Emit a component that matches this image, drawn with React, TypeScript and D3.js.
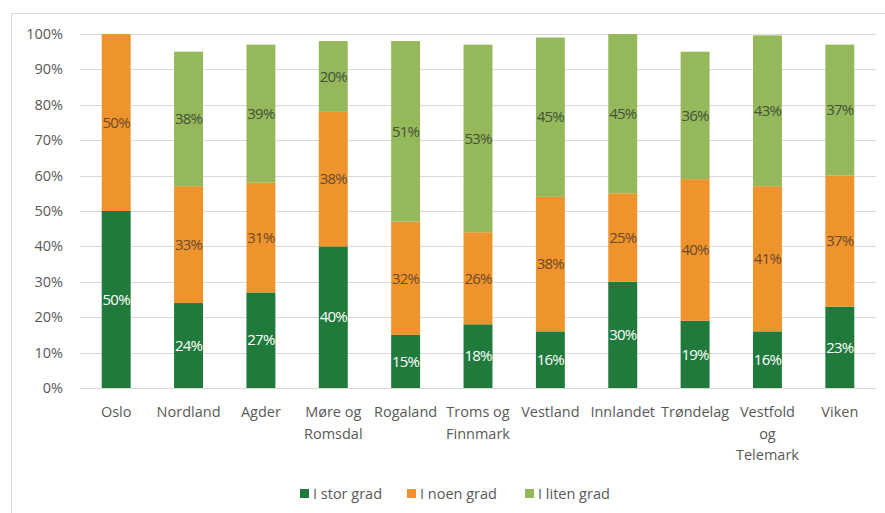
import React from "react";
import * as d3 from "d3";

const categories = ["Oslo", "Nordland", "Agder", "Møre og Romsdal", "Rogaland", "Troms og Finnmark", "Vestland", "Innlandet", "Trøndelag", "Vestfold og Telemark", "Viken"];
const categoryLines = [["Oslo"], ["Nordland"], ["Agder"], ["Møre og", "Romsdal"], ["Rogaland"], ["Troms og", "Finnmark"], ["Vestland"], ["Innlandet"], ["Trøndelag"], ["Vestfold", "og", "Telemark"], ["Viken"]];
const seriesNames = ["I stor grad", "I noen grad", "I liten grad"];
const storGrad = [50, 24, 27, 40, 15, 18, 16, 30, 19, 16, 23];
const noenGrad = [50, 33, 31, 38, 32, 26, 38, 25, 40, 41, 37];
const litenGrad = [0, 38, 39, 20, 51, 53, 45, 45, 36, 42.6, 37];
const yTicks = [0, 10, 20, 30, 40, 50, 60, 70, 80, 90, 100];

const colors = ["#1f7a3c", "#ef942c", "#94b85a"];
const labelColors = ["#ffffff", "#6a4a2c", "#44523a"];
const FONT = "'Open Sans', sans-serif";

export default function App() {
  const W = 885, H = 513;
  const x = d3.scaleBand<string>().domain(categories).range([80, 876]).paddingInner(0.6).paddingOuter(0.3);
  const y = d3.scaleLinear().domain([0, 100]).range([388, 34]);
  const rows = categories.map((c, i) => ({ cat: c, s0: storGrad[i], s1: noenGrad[i], s2: litenGrad[i] }));
  const stack = d3.stack<any>().keys(["s0", "s1", "s2"])(rows);

  const legendX = [300, 407, 525];

  return (
    <div style={{ position: "fixed", left: 0, top: 0 }}>
      <svg width={W} height={H} style={{ display: "block", background: "#fff" }}>
        <line x1={11.5} x2={11.5} y1={13} y2={H} stroke="#d9d9d9" />
        <line x1={11} x2={W} y1={13.5} y2={13.5} stroke="#d9d9d9" />
        {yTicks.map((t) => (
          <g key={t}>
            <line x1={80} x2={876} y1={Math.round(y(t)) + 0.5} y2={Math.round(y(t)) + 0.5} stroke="#d9d9d9" />
            <text x={63} y={y(t)} dy="0.35em" textAnchor="end" fontFamily={FONT} fontSize={14.5} fill="#595959">{t}%</text>
          </g>
        ))}
        {stack.map((layer, si) => (
          <g key={si}>
            {layer.map((d, i) => {
              const v = d[1] - d[0];
              if (v <= 0) return null;
              const bx = x(categories[i])!;
              return (
                <g key={i}>
                  <rect x={bx} y={y(d[1])} width={x.bandwidth()} height={y(d[0]) - y(d[1])} fill={colors[si]} />
                  <text x={bx + x.bandwidth() / 2} y={(y(d[0]) + y(d[1])) / 2} dy="0.35em" textAnchor="middle" fontFamily={FONT} fontSize={15} fill={labelColors[si]} letterSpacing={-0.8}>{Math.round(v)}%</text>
                </g>
              );
            })}
          </g>
        ))}
        {categoryLines.map((lines, i) => (
          <text key={i} textAnchor="middle" fontFamily={FONT} fontSize={14.5} fill="#595959">
            {lines.map((l, j) => (
              <tspan key={j} x={x(categories[i])! + x.bandwidth() / 2} y={412 + j * 21.5} dy="0.35em">{l}</tspan>
            ))}
          </text>
        ))}
        {seriesNames.map((n, i) => (
          <g key={n}>
            <rect x={legendX[i]} y={489} width={9} height={9} fill={colors[i]} />
            <text x={legendX[i] + 13} y={494} dy="0.35em" fontFamily={FONT} fontSize={14.5} fill="#595959">{n}</text>
          </g>
        ))}
      </svg>
    </div>
  );
}
